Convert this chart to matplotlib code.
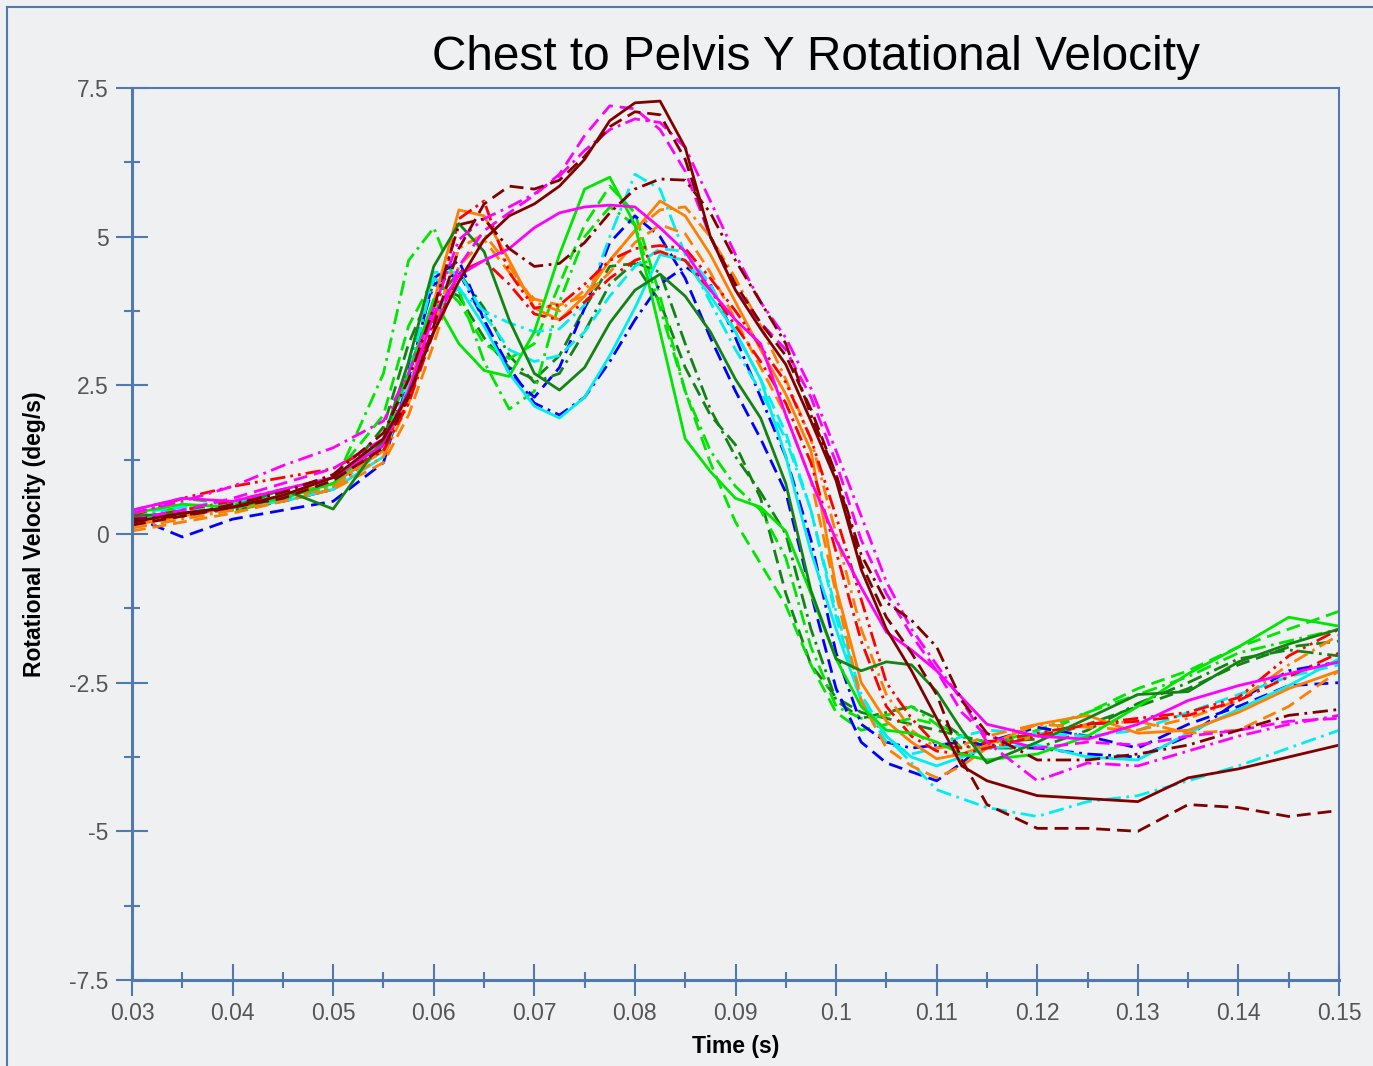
import matplotlib
matplotlib.use("Agg")
import matplotlib.pyplot as plt
from matplotlib.lines import Line2D

plt.rcParams['font.family'] = ['Liberation Sans', 'DejaVu Sans']

# sample times (s), finer where the curves move fast
t = [0.030, 0.035, 0.040, 0.045, 0.050, 0.055, 0.0575, 0.060, 0.0625, 0.065,
     0.0675, 0.070, 0.0725, 0.075, 0.0775, 0.080, 0.0825, 0.085, 0.0875, 0.090,
     0.0925, 0.095, 0.0975, 0.100, 0.1025, 0.105, 0.1075, 0.110, 0.1125, 0.115,
     0.120, 0.125, 0.130, 0.135, 0.140, 0.145, 0.150]

# rotational velocity (deg/s), one list per trace
mr_solid = [0.20, 0.35, 0.45, 0.65, 0.95, 1.60, 2.35, 3.40, 4.25, 4.95, 5.35, 5.55, 5.85, 6.30, 6.95, 7.25, 7.28, 6.50, 5.00, 4.10, 3.45, 2.85, 1.90, 0.90, -0.60, -1.60, -2.30, -3.10, -3.90, -4.15, -4.40, -4.45, -4.50, -4.10, -3.95, -3.75, -3.55]
mr_dashed = [0.15, 0.30, 0.45, 0.60, 0.90, 1.45, 2.30, 3.50, 4.80, 5.55, 5.85, 5.80, 5.95, 6.35, 6.85, 7.10, 7.05, 6.30, 5.00, 4.20, 3.55, 3.00, 2.10, 1.00, -0.50, -1.40, -2.00, -2.70, -3.80, -4.55, -4.95, -4.95, -5.00, -4.55, -4.60, -4.75, -4.65]
mr_dashdot = [0.25, 0.30, 0.50, 0.70, 1.00, 1.70, 2.60, 3.80, 5.20, 5.30, 4.80, 4.50, 4.55, 4.90, 5.40, 5.80, 5.97, 5.95, 5.40, 4.60, 3.90, 3.20, 2.00, 1.00, -0.35, -1.15, -1.45, -1.90, -2.80, -3.35, -3.80, -3.80, -3.70, -3.55, -3.30, -3.05, -2.95]
mg_solid = [0.40, 0.60, 0.55, 0.75, 0.95, 1.50, 2.40, 3.70, 4.35, 4.60, 4.80, 5.15, 5.40, 5.50, 5.53, 5.50, 5.15, 4.75, 4.10, 3.60, 3.20, 2.00, 0.90, -0.10, -0.90, -1.65, -1.95, -2.30, -2.75, -3.20, -3.40, -3.45, -3.20, -2.80, -2.55, -2.35, -2.15]
mg_dashed = [0.25, 0.40, 0.60, 0.85, 1.10, 1.60, 2.40, 3.40, 4.50, 5.10, 5.40, 5.70, 6.05, 6.70, 7.20, 7.15, 6.80, 6.10, 5.00, 4.10, 3.55, 3.10, 2.30, 1.20, -0.10, -1.00, -1.70, -2.30, -3.00, -3.40, -3.60, -3.50, -3.55, -3.40, -3.30, -3.15, -3.10]
mg_dashdot = [0.35, 0.55, 0.80, 1.15, 1.45, 1.90, 2.70, 3.80, 4.95, 5.30, 5.50, 5.72, 6.02, 6.45, 6.80, 6.98, 6.92, 6.50, 5.60, 4.70, 3.90, 3.30, 2.45, 1.40, 0.30, -0.80, -1.60, -2.20, -2.80, -3.50, -4.15, -3.85, -3.90, -3.65, -3.40, -3.20, -3.05]
rd_dashdotdot = [0.30, 0.60, 0.80, 0.95, 1.10, 1.55, 2.20, 3.60, 5.30, 5.60, 4.40, 3.80, 3.85, 4.20, 4.60, 4.80, 4.85, 4.80, 4.30, 3.75, 3.15, 2.55, 1.60, 0.30, -1.10, -2.50, -3.10, -3.55, -3.60, -3.50, -3.35, -3.20, -3.10, -3.00, -2.75, -2.05, -1.60]
rd_dashdot = [0.25, 0.40, 0.55, 0.75, 0.95, 1.40, 2.20, 3.40, 4.40, 4.60, 4.20, 3.70, 3.60, 3.90, 4.30, 4.60, 4.75, 4.60, 4.10, 3.50, 2.90, 2.20, 1.20, -0.30, -1.80, -2.90, -3.40, -3.65, -3.70, -3.60, -3.40, -3.20, -3.15, -3.05, -2.80, -2.40, -2.00]
or_solid = [0.15, 0.30, 0.45, 0.65, 0.85, 1.40, 2.40, 3.90, 5.45, 5.35, 4.60, 3.80, 3.60, 4.00, 4.60, 5.10, 5.60, 5.35, 4.70, 3.90, 3.10, 2.35, 1.40, -0.90, -2.50, -3.15, -3.50, -3.78, -3.70, -3.55, -3.20, -3.05, -3.35, -3.30, -3.00, -2.60, -2.30]
or_dashdot = [0.10, 0.25, 0.40, 0.60, 0.80, 1.30, 2.20, 3.50, 4.80, 5.05, 4.50, 3.90, 3.75, 4.10, 4.60, 5.10, 5.45, 5.50, 5.00, 4.30, 3.50, 2.60, 1.60, 0.00, -1.60, -2.70, -3.30, -3.60, -3.55, -3.40, -3.20, -3.25, -3.30, -3.10, -2.80, -2.20, -1.70]
or_dashed = [0.05, 0.20, 0.35, 0.55, 0.75, 1.20, 2.00, 3.20, 4.50, 4.95, 4.40, 3.95, 3.85, 4.00, 4.40, 4.90, 5.20, 5.05, 4.40, 3.60, 2.80, 2.00, 0.90, -1.00, -2.80, -3.60, -3.90, -4.10, -3.90, -3.60, -3.40, -3.20, -3.15, -3.35, -3.30, -2.90, -2.30]
bl_dashed = [0.30, -0.05, 0.25, 0.40, 0.55, 1.20, 2.60, 4.30, 4.60, 3.60, 2.70, 2.30, 2.80, 3.80, 4.90, 5.35, 5.00, 4.30, 3.30, 2.40, 1.60, 0.70, -1.00, -2.60, -3.50, -3.85, -4.00, -4.15, -3.85, -3.50, -3.25, -3.40, -3.60, -3.20, -2.90, -2.55, -2.50]
bl_dashdot = [0.20, 0.30, 0.45, 0.55, 0.75, 1.50, 2.80, 4.20, 4.40, 3.60, 2.80, 2.20, 2.00, 2.30, 2.90, 3.60, 4.20, 4.50, 4.20, 3.30, 2.30, 1.30, -0.10, -2.00, -3.20, -3.50, -3.60, -3.55, -3.50, -3.55, -3.60, -3.70, -3.75, -3.40, -2.80, -2.30, -2.15]
cy_solid = [0.25, 0.35, 0.45, 0.55, 0.75, 1.30, 2.50, 3.70, 4.15, 3.50, 2.70, 2.15, 1.95, 2.30, 3.00, 3.80, 4.70, 4.60, 4.00, 3.40, 2.60, 1.30, -0.30, -1.60, -2.80, -3.40, -3.75, -3.90, -3.75, -3.60, -3.55, -3.75, -3.80, -3.35, -2.95, -2.55, -2.10]
cy_dashdot = [0.30, 0.40, 0.50, 0.60, 0.80, 1.40, 2.70, 4.30, 4.10, 3.75, 3.55, 3.40, 3.45, 3.85, 5.00, 6.05, 5.80, 4.70, 3.90, 3.10, 2.40, 1.60, 0.40, -1.30, -2.70, -3.40, -3.85, -4.30, -4.45, -4.60, -4.75, -4.50, -4.40, -4.15, -3.90, -3.60, -3.30]
cy_dashed = [0.35, 0.45, 0.55, 0.65, 0.85, 1.50, 2.90, 4.40, 4.40, 3.70, 3.10, 2.90, 3.00, 3.40, 4.00, 4.50, 4.80, 4.75, 4.20, 3.40, 2.60, 1.70, 0.40, -1.40, -2.80, -3.50, -3.70, -3.60, -3.40, -3.30, -3.35, -3.40, -3.30, -3.00, -2.70, -2.40, -2.20]
lm_solid = [0.35, 0.50, 0.45, 0.60, 0.85, 1.60, 2.70, 3.95, 3.20, 2.75, 2.65, 3.40, 4.70, 5.80, 6.00, 5.20, 3.40, 1.60, 1.05, 0.60, 0.45, 0.05, -1.00, -2.10, -2.90, -3.30, -3.35, -3.50, -3.70, -3.80, -3.70, -3.40, -2.90, -2.35, -1.90, -1.40, -1.55]
lm_dashed = [0.40, 0.60, 0.50, 0.65, 0.95, 2.00, 3.50, 4.30, 3.90, 3.20, 2.95, 3.20, 4.20, 5.20, 5.85, 5.40, 4.00, 2.40, 1.20, 0.20, -0.50, -1.20, -2.20, -3.00, -3.30, -3.20, -3.10, -3.20, -3.40, -3.50, -3.40, -3.00, -2.60, -2.30, -1.90, -1.60, -1.30]
lm_dashdot = [0.30, 0.45, 0.40, 0.55, 0.80, 2.70, 4.60, 5.15, 4.10, 2.90, 2.10, 2.40, 3.90, 5.00, 5.50, 5.20, 3.80, 2.40, 1.40, 0.80, 0.40, -0.40, -1.90, -2.90, -3.10, -3.05, -2.90, -3.20, -3.60, -3.55, -3.30, -3.00, -2.70, -2.40, -2.00, -1.80, -1.60]
dg_solid = [0.30, 0.35, 0.45, 0.75, 0.42, 1.60, 2.90, 4.50, 5.22, 4.75, 3.60, 2.70, 2.42, 2.80, 3.55, 4.10, 4.37, 4.00, 3.40, 2.60, 1.95, 0.85, -0.95, -2.10, -2.30, -2.15, -2.20, -2.65, -3.30, -3.85, -3.50, -3.10, -2.70, -2.65, -2.15, -1.85, -1.60]
dg_dashdot = [0.35, 0.30, 0.50, 0.60, 0.80, 1.50, 2.70, 3.90, 4.40, 3.80, 3.00, 2.55, 2.70, 3.40, 4.20, 4.57, 4.40, 3.20, 2.10, 1.30, 0.70, 0.00, -1.60, -2.80, -3.10, -3.00, -2.90, -3.10, -3.40, -3.60, -3.60, -3.30, -2.85, -2.50, -2.10, -1.95, -2.05]
dg_dashed = [0.25, 0.35, 0.40, 0.55, 0.75, 1.80, 3.20, 4.20, 4.00, 3.30, 2.80, 2.60, 3.00, 3.80, 4.50, 4.55, 3.90, 2.80, 2.00, 1.50, 0.60, -1.00, -2.20, -2.75, -3.00, -3.10, -3.20, -3.30, -3.40, -3.50, -3.45, -3.20, -2.90, -2.60, -2.20, -1.90, -1.80]

x_ticks = [0.03, 0.04, 0.05, 0.06, 0.07, 0.08, 0.09, 0.10, 0.11, 0.12, 0.13, 0.14, 0.15]
x_labels = ['0.03', '0.04', '0.05', '0.06', '0.07', '0.08', '0.09', '0.1', '0.11', '0.12', '0.13', '0.14', '0.15']
y_ticks = [7.5, 5, 2.5, 0, -2.5, -5, -7.5]
y_labels = ['7.5', '5', '2.5', '0', '-2.5', '-5', '-7.5']

# colours and dash patterns
maroon, magenta, red, orange = '#800000', '#FF00FF', '#FF0000', '#FF8000'
blue, cyan, lime, dgreen = '#0000FF', '#00EEEE', '#00E600', '#138413'
solid = '-'
dashed = (0, (5, 2.5))
dashdot = (0, (5.5, 2, 1, 2))
dashdotdot = (0, (5.5, 1.8, 1, 1.8, 1, 1.8))

traces = [
    (dg_dashed, dgreen, dashed), (dg_dashdot, dgreen, dashdot), (lm_dashed, lime, dashed),
    (lm_dashdot, lime, dashdot), (bl_dashed, blue, dashed), (bl_dashdot, blue, dashdot),
    (cy_dashed, cyan, dashed), (cy_dashdot, cyan, dashdot), (cy_solid, cyan, solid),
    (or_dashed, orange, dashed), (or_dashdot, orange, dashdot), (or_solid, orange, solid),
    (rd_dashdot, red, dashdot), (rd_dashdotdot, red, dashdotdot),
    (lm_solid, lime, solid), (dg_solid, dgreen, solid),
    (mg_dashed, magenta, dashed), (mg_dashdot, magenta, dashdot), (mg_solid, magenta, solid),
    (mr_dashdot, maroon, dashdot), (mr_dashed, maroon, dashed), (mr_solid, maroon, solid),
]

bg = '#EEF0F2'
frame = '#5079B0'

fig = plt.figure(figsize=(13.73, 10.66), dpi=100, facecolor=bg)
ax = fig.add_axes([132 / 1373, 1 - 980 / 1066, (1339 - 132) / 1373, (980 - 88) / 1066])
ax.set_facecolor(bg)

for vals, col, ls in traces:
    ax.plot(t, vals, color=col, linestyle=ls, linewidth=2.0,
            solid_joinstyle='round', dash_joinstyle='round')

ax.set_xlim(0.03, 0.15)
ax.set_ylim(-7.5, 7.5)
ax.set_xticks(x_ticks)
ax.set_xticklabels(x_labels)
ax.set_xticks([0.035 + 0.01 * i for i in range(12)], minor=True)
ax.set_yticks(y_ticks)
ax.set_yticklabels(y_labels)
ax.set_yticks([6.25, 3.75, 1.25, -1.25, -3.75, -6.25], minor=True)

ax.tick_params(which='major', direction='inout', length=23, width=1.5, color=frame,
               labelsize=16.5, labelcolor='#555555')
ax.tick_params(which='minor', direction='inout', length=12, width=1.5, color=frame)
ax.tick_params(axis='x', which='major', pad=4)
ax.tick_params(axis='y', which='major', pad=5.5)

for side in ['left', 'bottom']:
    ax.spines[side].set_color(frame)
    ax.spines[side].set_linewidth(2.2)
for side in ['top', 'right']:
    ax.spines[side].set_color(frame)
    ax.spines[side].set_linewidth(1.5)

fig.text(816 / 1373, 1 - 70 / 1066, 'Chest to Pelvis Y Rotational Velocity',
         fontsize=34.4, ha='center', va='baseline', color='black')
fig.text(735.5 / 1373, 1 - 1046 / 1066, 'Time (s)', fontsize=16.5, fontweight='bold',
         ha='center', va='center', color='black')
fig.text(35 / 1373, 1 - 534 / 1066, 'Rotational Velocity (deg/s)', fontsize=16.5,
         fontweight='bold', rotation=90, ha='center', va='center', color='black')

# outer frame (left and top edges visible in the picture)
fig.add_artist(Line2D([6.5 / 1373, 6.5 / 1373], [0, 1 - 6.5 / 1066], transform=fig.transFigure,
                      color=frame, linewidth=1.5))
fig.add_artist(Line2D([6.5 / 1373, 1], [1 - 6.5 / 1066, 1 - 6.5 / 1066], transform=fig.transFigure,
                      color=frame, linewidth=1.5))

fig.savefig('out.png', dpi=100, facecolor=bg)
